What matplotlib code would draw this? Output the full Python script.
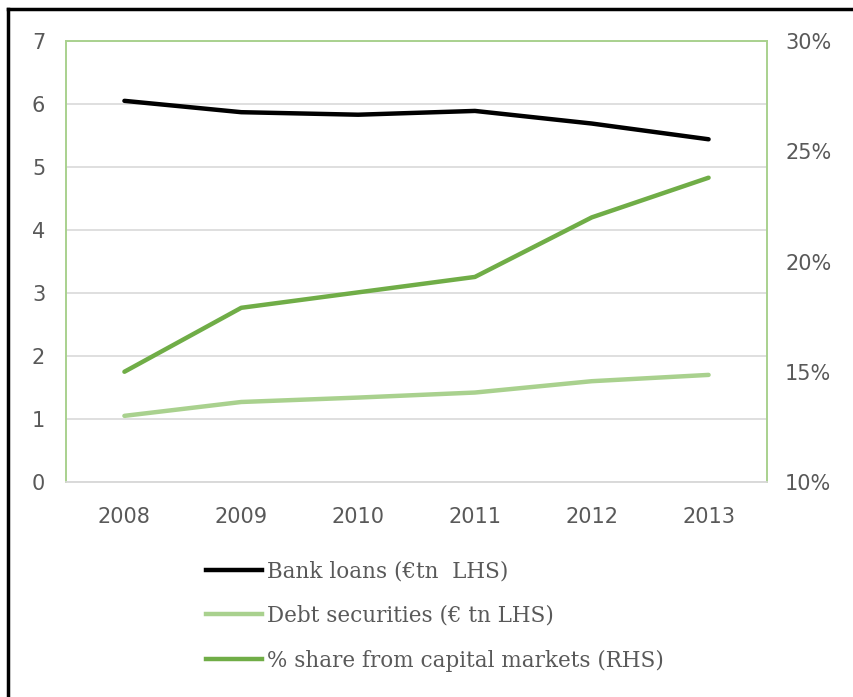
import matplotlib.pyplot as plt
from matplotlib.lines import Line2D

years = ["2008", "2009", "2010", "2011", "2012", "2013"]
bank_loans = [6.05, 5.87, 5.83, 5.89, 5.69, 5.44]
debt_securities = [1.05, 1.27, 1.34, 1.42, 1.60, 1.70]
share_capital = [15.0, 17.9, 18.6, 19.3, 22.0, 23.8]

left_ticks = [0, 1, 2, 3, 4, 5, 6, 7]
right_ticks = [10, 15, 20, 25, 30]

black = "#000000"
light_green = "#a9d18e"
green = "#70ad47"
grey_txt = "#595959"

fig = plt.figure(figsize=(8.54, 6.97), dpi=100)
ax = fig.add_axes([66 / 854, 1 - 482 / 697, 701 / 854, 441 / 697])
ax2 = ax.twinx()

x = range(len(years))
ax.plot(x, bank_loans, color=black, lw=3.2, solid_capstyle="round")
ax.plot(x, debt_securities, color=light_green, lw=3.2, solid_capstyle="round")
ax2.plot(x, share_capital, color=green, lw=3.2, solid_capstyle="round")

ax.set_xlim(-0.5, len(years) - 0.5)
ax.set_ylim(0, 7)
ax2.set_ylim(10, 30)
ax.set_yticks(left_ticks)
ax2.set_yticks(right_ticks)
ax2.set_yticklabels([f"{t}%" for t in right_ticks])
ax.set_xticks(list(x))
ax.set_xticklabels(years)

ax.grid(axis="y", color="#d9d9d9", lw=1.2)
ax.set_axisbelow(True)

for a in (ax, ax2):
    for side in ("left", "right", "top"):
        a.spines[side].set_color(light_green)
        a.spines[side].set_linewidth(1.2)
    a.spines["bottom"].set_color("#d9d9d9")
    a.spines["bottom"].set_linewidth(1.2)
    a.tick_params(length=0, labelsize=15, colors=grey_txt)
ax.tick_params(axis="y", pad=15)
ax.tick_params(axis="x", pad=18)
ax2.tick_params(axis="y", pad=13)

handles = [Line2D([], [], color=black, lw=3.2),
           Line2D([], [], color=light_green, lw=3.2),
           Line2D([], [], color=green, lw=3.2)]
labels = ["Bank loans (\u20actn  LHS)", "Debt securities (\u20ac tn LHS)",
          "% share from capital markets (RHS)"]
fig.legend(handles, labels, loc="upper left", bbox_to_anchor=(187 / 854, 1 - 541 / 697),
           frameon=False, handlelength=2.6, handletextpad=0.2, labelspacing=1.05,
           prop={"family": "DejaVu Serif", "size": 15.5}, labelcolor=grey_txt)

# outer frame (top and left edges visible)
fig.add_artist(Line2D([8 / 854, 1], [1 - 9 / 697, 1 - 9 / 697], color=black, lw=2.5,
                      transform=fig.transFigure))
fig.add_artist(Line2D([8 / 854, 8 / 854], [0, 1 - 9 / 697], color=black, lw=2.5,
                      transform=fig.transFigure))

fig.savefig("out.png", dpi=100)
